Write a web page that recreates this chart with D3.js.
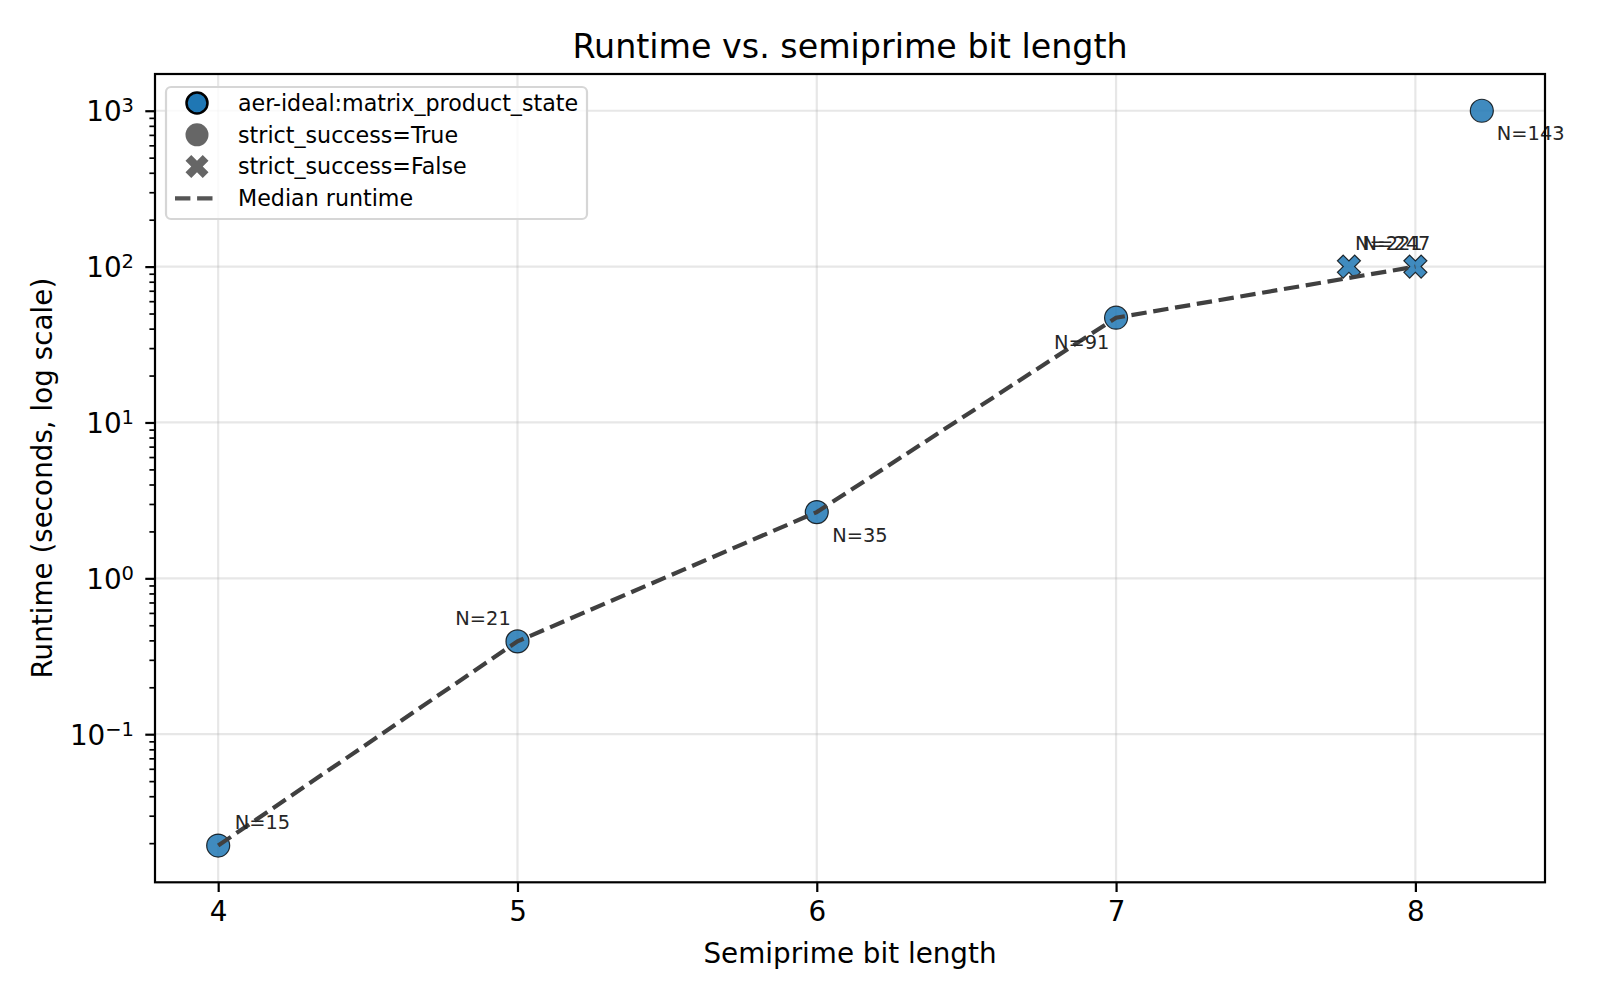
<!DOCTYPE html>
<html lang="en">
<head>
    <meta charset="UTF-8">
    <title>Runtime vs. semiprime bit length</title>
    <script src="https://cdn.jsdelivr.net/npm/d3@7/dist/d3.min.js"></script>
    <style>
        body { margin: 0; background: #fff; }
        text { font-family: "DejaVu Sans", sans-serif; }
    </style>
</head>
<body>
<svg></svg>
<script>
    // data
    const semiprimes = [15, 21, 35, 91, 221, 247, 143];
    const bitLengths = [4, 5, 6, 7, 8, 8, 8];
    const xJitter = [0, 0, 0, 0, -0.222, 0, 0.222];
    const runtimes = [0.0193, 0.394, 2.66, 47.0, 100, 100, 1000];
    const strictSuccess = [true, true, true, true, false, false, true];

    const medianBits = [4, 5, 6, 7, 8];
    const medianRuntime = [0.0193, 0.394, 2.66, 47.0, 100];

    const xTicks = [4, 5, 6, 7, 8];
    const yTickExps = [-1, 0, 1, 2, 3];

    const legendLabels = ["aer-ideal:matrix_product_state", "strict_success=True", "strict_success=False", "Median runtime"];

    // label placement (px offset from point, text anchor)
    const labelOffsets = [
        [16.6, -17, "start"], [-6.7, -16.5, "end"], [15.5, 29.5, "start"], [-6.7, 31, "end"],
        [6, -16.6, "start"], [15, -16.6, "end"], [15, 29.5, "start"]
    ];

    const W = 1600, H = 1000;
    const m = {left: 155, right: 1545, top: 74, bottom: 882.3};

    const svg = d3.select("svg").attr("width", W).attr("height", H);

    // matplotlib-style 5% margins
    const xPos = bitLengths.map((b, i) => b + xJitter[i]);
    const xr = d3.extent(xPos), xpad = (xr[1] - xr[0]) * 0.05;
    const x = d3.scaleLinear().domain([xr[0] - xpad, xr[1] + xpad]).range([m.left, m.right]);

    const ly = d3.extent(runtimes).map(Math.log10), ypad = (ly[1] - ly[0]) * 0.05;
    const y = d3.scaleLog()
        .domain([Math.pow(10, ly[0] - ypad), Math.pow(10, ly[1] + ypad)])
        .range([m.bottom, m.top]);

    // grid
    const grid = svg.append("g");
    grid.selectAll(".gx").data(xTicks).enter().append("line")
        .attr("x1", d => x(d)).attr("x2", d => x(d))
        .attr("y1", m.top).attr("y2", m.bottom)
        .attr("stroke", "#b0b0b0").attr("stroke-opacity", 0.3).attr("stroke-width", 2.2);
    grid.selectAll(".gy").data(yTickExps).enter().append("line")
        .attr("x1", m.left).attr("x2", m.right)
        .attr("y1", d => y(Math.pow(10, d))).attr("y2", d => y(Math.pow(10, d)))
        .attr("stroke", "#b0b0b0").attr("stroke-opacity", 0.3).attr("stroke-width", 2.2);

    // axes
    const xAxis = d3.axisBottom(x).tickValues(xTicks).tickSize(9.7).tickPadding(9.7).tickFormat(d3.format("d"));
    const gx = svg.append("g").attr("transform", `translate(0,${m.bottom})`).call(xAxis);
    gx.select(".domain").remove();
    gx.selectAll(".tick line").attr("stroke", "#000").attr("stroke-width", 2.2);
    gx.selectAll(".tick text").attr("font-size", 27.8).attr("fill", "#000")
        .attr("font-family", "DejaVu Sans");

    const minorTicks = y.ticks().filter(v => Math.abs(Math.log10(v) - Math.round(Math.log10(v))) > 1e-6);
    const gyMinor = svg.append("g").attr("transform", `translate(${m.left},0)`)
        .call(d3.axisLeft(y).tickValues(minorTicks).tickSize(5.6).tickFormat(""));
    gyMinor.select(".domain").remove();
    gyMinor.selectAll(".tick line").attr("stroke", "#000").attr("stroke-width", 1.7);

    const gy = svg.append("g").attr("transform", `translate(${m.left},0)`)
        .call(d3.axisLeft(y).tickValues(yTickExps.map(e => Math.pow(10, e))).tickSize(9.7).tickPadding(9.7).tickFormat(""));
    gy.select(".domain").remove();
    gy.selectAll(".tick line").attr("stroke", "#000").attr("stroke-width", 2.2);
    gy.selectAll(".tick").each(function (d) {
        const e = Math.round(Math.log10(d));
        const t = d3.select(this).append("text")
            .attr("x", -21).attr("dy", "0.36em")
            .attr("text-anchor", "end").attr("font-size", 27.8).attr("fill", "#000");
        t.append("tspan").text("10");
        t.append("tspan").attr("dy", "-0.45em").attr("font-size", 19.5)
            .text(e < 0 ? "\u2212" + Math.abs(e) : e);
    });

    // median line
    const line = d3.line().x(d => x(d[0])).y(d => y(d[1]));

    // points
    const pts = semiprimes.map((n, i) => ({n, x: xPos[i], y: runtimes[i], ok: strictSuccess[i], off: labelOffsets[i]}));
    const crossPath = [[-1, -2], [0, -1], [1, -2], [2, -1], [1, 0], [2, 1], [1, 2], [0, 1], [-1, 2], [-2, 1], [-1, 0], [-2, -1]];
    const msize = 23;
    const crossD = "M" + crossPath.map(p => [p[0] * msize / 4, p[1] * msize / 4].join(",")).join("L") + "Z";

    const gp = svg.append("g");
    gp.selectAll("circle").data(pts.filter(d => d.ok)).enter().append("circle")
        .attr("cx", d => x(d.x)).attr("cy", d => y(d.y)).attr("r", msize / 2)
        .attr("fill", "#1f77b4").attr("fill-opacity", 0.85)
        .attr("stroke", "#000").attr("stroke-opacity", 0.8).attr("stroke-width", 1.2);
    gp.selectAll("path").data(pts.filter(d => !d.ok)).enter().append("path")
        .attr("d", crossD)
        .attr("transform", d => `translate(${x(d.x)},${y(d.y)})`)
        .attr("fill", "#1f77b4").attr("fill-opacity", 0.85)
        .attr("stroke", "#000").attr("stroke-opacity", 0.8).attr("stroke-width", 1.2);

    svg.append("path")
        .datum(medianBits.map((b, i) => [b, medianRuntime[i]]))
        .attr("d", line)
        .attr("fill", "none").attr("stroke", "#404040").attr("stroke-width", 4.2)
        .attr("stroke-dasharray", "15.4,6.7");

    // point labels (N=221 and N=247 overlap in the original too)
    svg.append("g").selectAll("text").data(pts).enter().append("text")
        .attr("x", d => x(d.x) + d.off[0]).attr("y", d => y(d.y) + d.off[1])
        .attr("text-anchor", d => d.off[2])
        .attr("font-size", 19.4).attr("fill", "#262626")
        .text(d => "N=" + d.n);

    // frame
    svg.append("rect")
        .attr("x", m.left).attr("y", m.top)
        .attr("width", m.right - m.left).attr("height", m.bottom - m.top)
        .attr("fill", "none").attr("stroke", "#000").attr("stroke-width", 2.2);

    // titles
    svg.append("text").attr("x", (m.left + m.right) / 2).attr("y", 58)
        .attr("text-anchor", "middle").attr("font-size", 33.3).attr("fill", "#000")
        .text("Runtime vs. semiprime bit length");
    svg.append("text").attr("x", (m.left + m.right) / 2).attr("y", 963)
        .attr("text-anchor", "middle").attr("font-size", 27.8).attr("fill", "#000")
        .text("Semiprime bit length");
    svg.append("text")
        .attr("transform", `translate(52,${(m.top + m.bottom) / 2}) rotate(-90)`)
        .attr("text-anchor", "middle").attr("font-size", 27.8).attr("fill", "#000")
        .text("Runtime (seconds, log scale)");

    // legend
    const lg = svg.append("g");
    lg.append("rect").attr("x", 166).attr("y", 87).attr("width", 421).attr("height", 132)
        .attr("rx", 5).attr("fill", "#fff").attr("fill-opacity", 0.8)
        .attr("stroke", "#d6d6d6").attr("stroke-width", 2.2);
    const rowY = i => 103 + i * 31.8;
    lg.append("circle").attr("cx", 197).attr("cy", rowY(0)).attr("r", 10.5)
        .attr("fill", "#1f77b4").attr("stroke", "#000").attr("stroke-width", 2.5);
    lg.append("circle").attr("cx", 197).attr("cy", rowY(1)).attr("r", 11.5).attr("fill", "#666");
    lg.append("path").attr("d", crossD).attr("transform", `translate(197,${rowY(2)})`).attr("fill", "#666");
    lg.append("line").attr("x1", 175).attr("x2", 219).attr("y1", rowY(3)).attr("y2", rowY(3))
        .attr("stroke", "#555").attr("stroke-width", 4.2).attr("stroke-dasharray", "15.4,6.7");
    lg.selectAll("text").data(legendLabels).enter().append("text")
        .attr("x", 238).attr("y", (d, i) => rowY(i)).attr("dy", "0.35em")
        .attr("font-size", 22.2).attr("fill", "#000")
        .text(d => d);
</script>
</body>
</html>
